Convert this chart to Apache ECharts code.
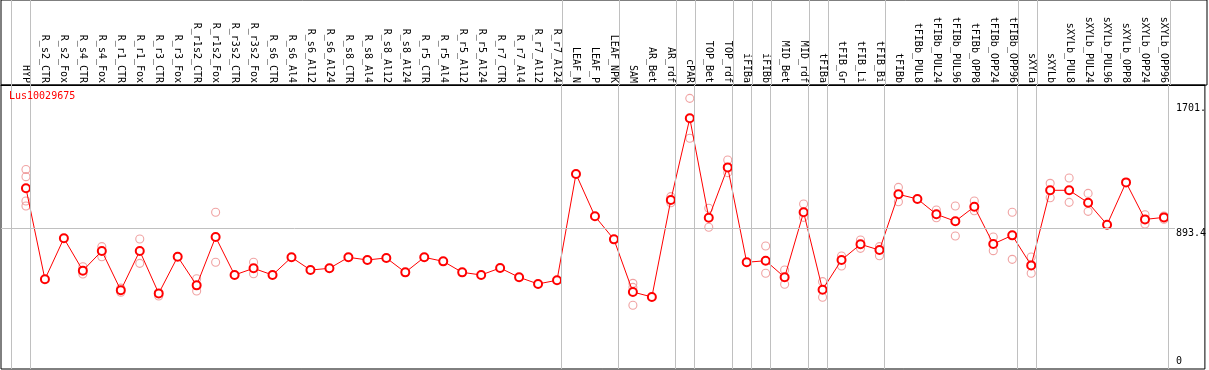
<!DOCTYPE html>
<html>
<head>
<meta charset="utf-8">
<script src="https://cdn.jsdelivr.net/npm/echarts@6/dist/echarts.min.js"></script>
<style>html,body{margin:0;padding:0;background:#fff;}#c{width:1209px;height:370px;}</style>
</head>
<body>
<div id="c"></div>
<script>
const geneName = 'Lus10029675';
const categories = ['HYP','R_s2_CTR','R_s2_Fox','R_s4_CTR','R_s4_Fox','R_r1_CTR','R_r1_Fox','R_r3_CTR','R_r3_Fox','R_r1s2_CTR','R_r1s2_Fox','R_r3s2_CTR','R_r3s2_Fox','R_s6_CTR','R_s6_Al4','R_s6_Al12','R_s6_Al24','R_s8_CTR','R_s8_Al4','R_s8_Al12','R_s8_Al24','R_r5_CTR','R_r5_Al4','R_r5_Al12','R_r5_Al24','R_r7_CTR','R_r7_Al4','R_r7_Al12','R_r7_Al24','LEAF_N','LEAF_P','LEAF_NPK','SAM','AR_Bet','AR_rdf','cPAR','TOP_Bet','TOP_rdf','iFIBa','iFIBb','MID_Bet','MID_rdf','tFIBa','tFIB_Gr','tFIB_Li','tFIB_Bi','tFIBb','tFIBb_PUL8','tFIBb_PUL24','tFIBb_PUL96','tFIBb_OPP8','tFIBb_OPP24','tFIBb_OPP96','sXYLa','sXYLb','sXYLb_PUL8','sXYLb_PUL24','sXYLb_PUL96','sXYLb_OPP8','sXYLb_OPP24','sXYLb_OPP96'];
const means = [1150,562,827,618,745,491,745,471,708,523,835,590,633,590,704,622,633,704,687,700,607,704,678,607,590,635,575,532,556,1242,969,820,480,448,1074,1602,960,1285,672,682,575,995,495,687,788,751,1111,1081,982,937,1031,790,846,652,1137,1137,1057,915,1188,949,962];
const replicates = [[1271,1225,1068,1036],[],[],[643,596],[773,708],[478,505],[822,665],[454],[],[566,486],[995,672],[],[672,598],[],[],[],[],[],[],[],[],[],[],[],[],[],[],[],[],[],[],[],[536,510,394],[],[1096,1057],[1731,1473],[1021,898],[1333,1251],[],[777,601],[622,530],[1048,962],[547,446],[713,648],[816,762],[773,714],[1156,1063],[],[1010,960],[1036,842],[1068,1005],[835,747],[995,691],[706,601],[1182,1089],[1216,1059],[1117,1001],[],[],[979,919],[971,950]];
const groupEnds = [-1,0,28,31,34,35,37,38,39,41,42,45,52,53,60];
const refValue = 893.4;
const yTickValues = [0, 893.4, 1701];
const yTickLabels = ['0', '893.4', '1701.'];

const mono = 'DejaVu Sans Mono';
const meanData = means.map((v, i) => [i, v]);
const repData = [];
replicates.forEach((arr, i) => arr.forEach(v => repData.push([i, v])));
const yMin = -17.4, yMax = 1817.2;
const xMin = -1.3158, xMax = 62.158;
const labelFor = v => { const k = yTickValues.indexOf(v); return k >= 0 ? yTickLabels[k] : ''; };
const groupLines = groupEnds.map(g => ({xAxis: g + 0.237}));
const gray = {color: '#c0c0c0', width: 1, type: 'solid'};

const chart = echarts.init(document.getElementById('c'), null, {renderer: 'canvas'});
chart.setOption({
  animation: false,
  backgroundColor: '#fff',
  title: {
    text: geneName, left: 9, top: 91, padding: 0,
    textStyle: {color: '#ff0000', fontSize: 10, fontFamily: mono, fontWeight: 'normal'}
  },
  grid: [
    {left: 1, right: 2, top: 85, bottom: 1, show: true, borderColor: '#000', borderWidth: 1, backgroundColor: 'transparent'},
    {left: 1, right: 2, top: 0, height: 85, show: true, borderColor: '#000', borderWidth: 1, backgroundColor: 'transparent'}
  ],
  xAxis: [
    {
      type: 'value', gridIndex: 0, min: xMin, max: xMax, position: 'top',
      axisLine: {show: true, onZero: false, lineStyle: {color: '#000', width: 1}},
      axisTick: {show: false}, splitLine: {show: false},
      axisLabel: {
        customValues: categories.map((_, i) => i),
        formatter: v => categories[Math.round(v)],
        rotate: 90, margin: 2, fontSize: 10, fontFamily: mono, color: '#000'
      }
    },
    {type: 'value', gridIndex: 1, min: xMin, max: xMax, show: false}
  ],
  yAxis: [
    {
      type: 'value', gridIndex: 0, min: yMin, max: yMax, position: 'right', offset: -31,
      axisLine: {show: false, onZero: false}, axisTick: {show: false}, splitLine: {show: false},
      axisLabel: {customValues: [yTickValues[1], yTickValues[2]], formatter: labelFor, margin: 2,
        verticalAlign: 'top', align: 'left', fontSize: 10, fontFamily: mono, color: '#000'}
    },
    {
      type: 'value', gridIndex: 0, min: yMin, max: yMax, position: 'right', offset: -31,
      axisLine: {show: false, onZero: false}, axisTick: {show: false}, splitLine: {show: false},
      axisLabel: {customValues: [yTickValues[0]], formatter: labelFor, margin: 2,
        verticalAlign: 'bottom', align: 'left', fontSize: 10, fontFamily: mono, color: '#000'}
    },
    {type: 'value', gridIndex: 1, min: 0, max: 1, show: false}
  ],
  series: [
    {
      type: 'line', xAxisIndex: 0, yAxisIndex: 0, data: [], silent: true, z: 1,
      markLine: {
        silent: true, symbol: 'none', animation: false, label: {show: false},
        lineStyle: gray, emphasis: {disabled: true},
        data: groupLines.concat([[
          {coord: [xMin, refValue]}, {coord: [(1177 - 26) / 19, refValue]}
        ]])
      }
    },
    {
      type: 'line', xAxisIndex: 1, yAxisIndex: 2, data: [], silent: true, z: 1,
      markLine: {
        silent: true, symbol: 'none', animation: false, label: {show: false},
        lineStyle: gray, emphasis: {disabled: true},
        data: groupLines
      }
    },
    {
      type: 'scatter', xAxisIndex: 0, yAxisIndex: 0, data: repData, symbol: 'circle', symbolSize: 8, z: 2,
      itemStyle: {color: 'rgba(255,255,255,0)', borderColor: '#ec8c8c', borderWidth: 1.1}
    },
    {
      type: 'line', xAxisIndex: 0, yAxisIndex: 0, data: meanData, z: 3,
      symbol: 'emptyCircle', symbolSize: 8, showAllSymbol: true,
      lineStyle: {color: '#ff0000', width: 1},
      itemStyle: {color: '#ff0000', borderColor: '#ff0000', borderWidth: 1.3}
    }
  ]
});
</script>
</body>
</html>
